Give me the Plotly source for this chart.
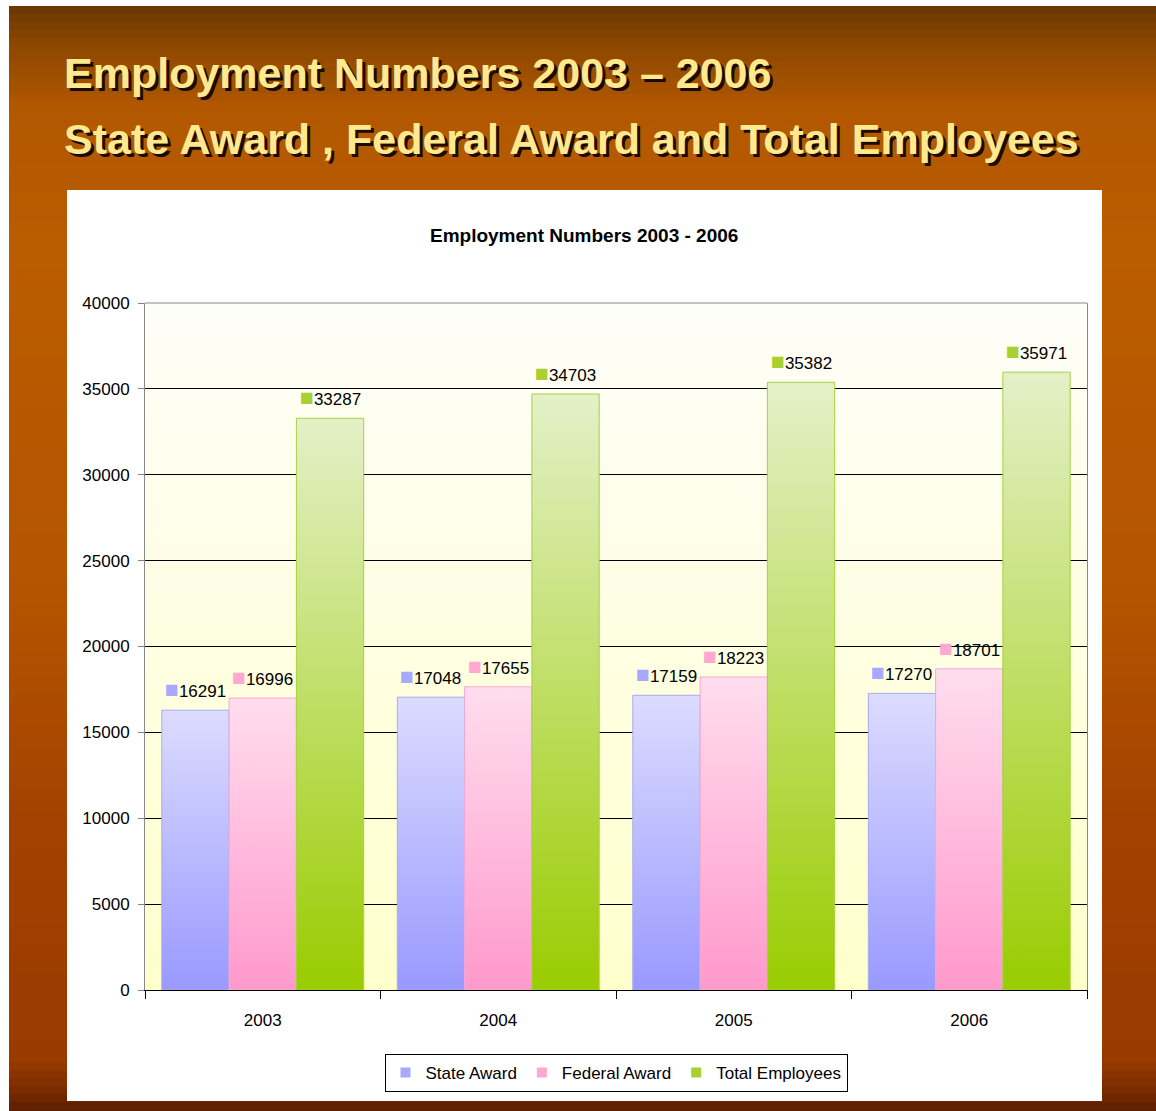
import plotly.graph_objects as go

# ---------------- data ----------------
years = ["2003", "2004", "2005", "2006"]
state_award = [16291, 17048, 17159, 17270]
federal_award = [16996, 17655, 18223, 18701]
total_employees = [33287, 34703, 35382, 35971]
series_names = ["State Award", "Federal Award", "Total Employees"]
y_ticks = [0, 5000, 10000, 15000, 20000, 25000, 30000, 35000, 40000]
y_tick_labels = ["0", "5000", "10000", "15000", "20000", "25000", "30000", "35000", "40000"]

slide_title_1 = "Employment Numbers 2003 \u2013 2006"
slide_title_2 = "State Award , Federal Award and Total Employees"
chart_title = "Employment Numbers 2003 - 2006"

# ---------------- styles ----------------
W, H = 1156, 1111
L, R, T, B = 145, 1087, 303, 990
FONT = "Liberation Sans, Arial, sans-serif"

series_values = [state_award, federal_award, total_employees]
grad_bottom = ["#9999FF", "#FF99CC", "#99CC00"]
grad_top = ["#DCDCFF", "#FFDDEE", "#E4F0C8"]
border_col = ["#A8A8F4", "#F2A8D2", "#A6D23C"]
key_col = ["#A8A8FF", "#FFA8D2", "#A8D030"]


def px(X):
    return (X - L) / (R - L)


def py(Y):
    return (B - Y) / (B - T)


def hex2rgb(h):
    h = h.lstrip("#")
    return tuple(int(h[i:i + 2], 16) for i in (0, 2, 4))


def interp(stops, y):
    for (y0, c0), (y1, c1) in zip(stops, stops[1:]):
        if y0 <= y <= y1:
            t = (y - y0) / (y1 - y0) if y1 > y0 else 0
            a, b = hex2rgb(c0), hex2rgb(c1)
            return "rgb(%d,%d,%d)" % tuple(round(a[j] + (b[j] - a[j]) * t) for j in range(3))
    return stops[-1][1]


shapes = []
# slide background gradient (decoration)
slide_stops = [(6, "#6A3600"), (45, "#8C4800"), (110, "#B25800"), (250, "#BA5C00"),
               (600, "#B45400"), (820, "#A34200"), (1060, "#993A00"), (1090, "#7A2C00"),
               (1111, "#5A1E00")]
step = 8
y = 6
while y < 1111:
    y2 = min(y + step, 1111)
    shapes.append(dict(type="rect", xref="paper", yref="paper", layer="below",
                       x0=px(9), x1=px(1156), y0=py(y), y1=py(min(y2 + 1, 1111)),
                       fillcolor=interp(slide_stops, (y + y2) / 2),
                       line=dict(width=0)))
    y = y2
# white chart box
shapes.append(dict(type="rect", xref="paper", yref="paper", layer="below",
                   x0=px(67), x1=px(1102), y0=py(190), y1=py(1101),
                   fillcolor="white", line=dict(width=0)))
# plot area gradient
pa_stops = [(T, "#FEFEF8"), (B, "#FFFFCC")]
y = T
while y < B:
    y2 = min(y + 10, B)
    shapes.append(dict(type="rect", xref="paper", yref="paper", layer="below",
                       x0=0, x1=1, y0=py(y), y1=py(min(y2 + 1, B)),
                       fillcolor=interp(pa_stops, (y + y2) / 2),
                       line=dict(width=0)))
    y = y2
# top border of plot area
shapes.append(dict(type="line", xref="paper", yref="paper", layer="above",
                   x0=0, x1=1, y0=1, y1=1, line=dict(color="#888888", width=1)))

fig = go.Figure()

bw = 1 / 3.5
for k, vals in enumerate(series_values):
    for i, v in enumerate(vals):
        x0 = i + (k - 1.5) * bw
        x1 = x0 + bw
        fig.add_trace(go.Scatter(
            x=[x0, x0, x1, x1, x0], y=[0, v, v, 0, 0],
            mode="lines", fill="toself",
            fillgradient=dict(type="vertical",
                              colorscale=[[0, grad_bottom[k]], [1, grad_top[k]]]),
            line=dict(color=border_col[k], width=1),
            showlegend=False, hoverinfo="skip"))

for k, name in enumerate(series_names):
    fig.add_trace(go.Scatter(x=[None], y=[None], mode="markers", name=name,
                             marker=dict(symbol="square", size=10, color=key_col[k],
                                         line=dict(width=0))))

annotations = []
for k, vals in enumerate(series_values):
    for i, v in enumerate(vals):
        xc = i + (k - 1) * bw
        annotations.append(dict(
            x=xc, y=v, xref="x", yref="y", showarrow=False,
            yanchor="middle", yshift=21,
            text="<span style='color:%s;font-size:23px'>\u25A0</span>%d" % (key_col[k], v),
            font=dict(family=FONT, size=17, color="black")))

title_font = dict(family=FONT, size=43, color="#FFE98F", weight="bold",
                  shadow="3px 3px 0px #1A0A00")
annotations.append(dict(x=px(62), y=py(73), xref="paper", yref="paper", showarrow=False,
                        xanchor="left", yanchor="middle", text="<b>%s</b>" % slide_title_1,
                        font=title_font))
annotations.append(dict(x=px(62), y=py(139), xref="paper", yref="paper", showarrow=False,
                        xanchor="left", yanchor="middle", text="<b>%s</b>" % slide_title_2,
                        font=title_font))
annotations.append(dict(x=px(584), y=py(236), xref="paper", yref="paper", showarrow=False,
                        xanchor="center", yanchor="middle", text="<b>%s</b>" % chart_title,
                        font=dict(family=FONT, size=19, color="black")))

fig.update_layout(
    width=W, height=H,
    margin=dict(l=L, r=W - R, t=T, b=H - B, autoexpand=False),
    paper_bgcolor="white", plot_bgcolor="rgba(0,0,0,0)",
    shapes=shapes, annotations=annotations,
    font=dict(family=FONT, size=17, color="black"),
    showlegend=True,
    legend=dict(orientation="h", x=px(616), y=py(1054), xanchor="center", yanchor="top",
                bgcolor="white", bordercolor="black", borderwidth=1,
                font=dict(family=FONT, size=17, color="black"),
                itemwidth=30, tracegroupgap=0),
    xaxis=dict(range=[-0.5, 3.5], tickmode="array", tickvals=[0, 1, 2, 3],
               ticktext=years, ticks="", ticklabelstandoff=15, showgrid=False,
               zeroline=False, showline=True, linecolor="black", linewidth=1,
               minor=dict(tickmode="array", tickvals=[-0.5, 0.5, 1.5, 2.5, 3.5],
                          ticks="outside", ticklen=8, tickcolor="black", tickwidth=1,
                          showgrid=False),
               fixedrange=True),
    yaxis=dict(range=[0, 40000], tickmode="array", tickvals=y_ticks,
               ticktext=y_tick_labels,
               ticks="outside", ticklen=6, tickcolor="#808080", ticklabelstandoff=5,
               showgrid=True, gridcolor="black", gridwidth=1,
               zeroline=False, showline=True, linecolor="#888888", mirror=True,
               fixedrange=True),
)

fig.write_html("out.html")
